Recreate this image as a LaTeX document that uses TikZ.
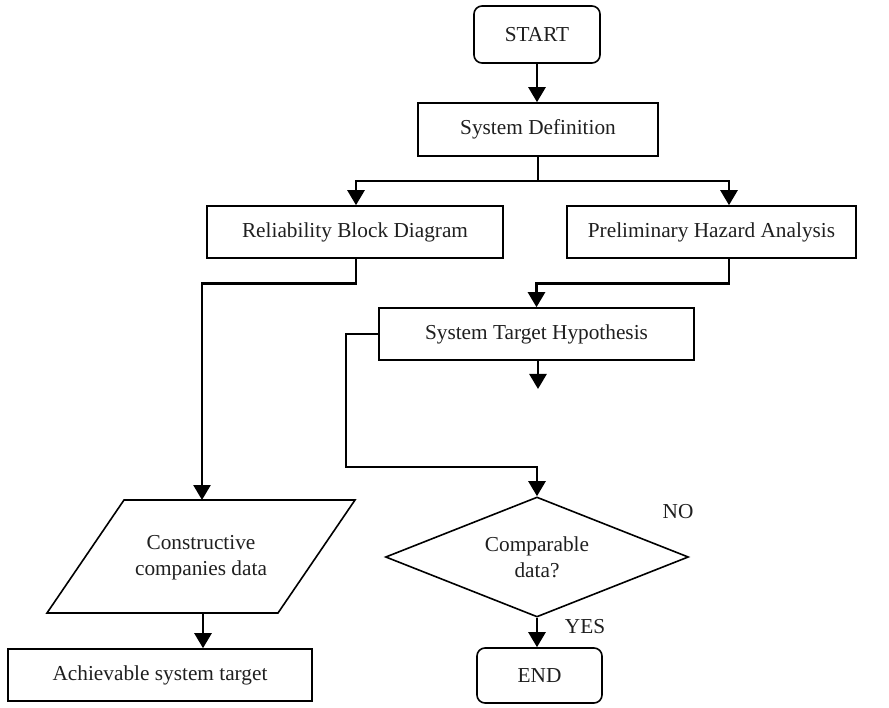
\documentclass[tikz,border=0pt]{standalone}
\usepackage{fontspec}
\setmainfont{Liberation Serif}
\usetikzlibrary{arrows.meta,shapes.geometric,calc}
\begin{document}
\begin{tikzpicture}[x=1pt,y=-1pt,
  box/.style={draw,line width=1.6pt,minimum height=53pt,inner sep=0pt,font=\fontsize{21.3}{26}\selectfont,text=black!88},
  term/.style={box,rounded corners=8pt},
  conn/.style={line width=2.6pt,-{Triangle[length=15pt,width=17pt]}},
  plain/.style={line width=2.6pt},
  lbl/.style={font=\fontsize{21.3}{26}\selectfont,text=black!88,inner sep=0pt}]
\useasboundingbox (0,0) rectangle (889,708);

% nodes
\node[term,minimum width=126pt,minimum height=57pt] (start) at (537,34.5) {START};
\node[box,minimum width=240pt] (sysdef) at (538,129.5) {System Definition};
\node[box,minimum width=296pt,minimum height=52pt] (rbd) at (355,232) {Reliability Block Diagram};
\node[box,minimum width=289pt,minimum height=52pt] (pha) at (711.5,232) {Preliminary Hazard Analysis};
\node[box,minimum width=315pt,minimum height=52pt] (sth) at (536.5,334) {System Target Hypothesis};

% parallelogram
\coordinate (p1) at (124,500);
\coordinate (p2) at (355,500);
\coordinate (p3) at (278,613);
\coordinate (p4) at (47,613);
\draw[line width=1.6pt] (p1) -- (p2) -- (p3) -- (p4) -- cycle;
\node[lbl,align=center] (para) at (201,558) {Constructive\\companies data};

\node[box,minimum width=304pt,minimum height=52pt] (ach) at (160,675) {Achievable system target};

\node[draw,diamond,line width=1.6pt,minimum width=303pt,minimum height=120pt,inner sep=0pt,aspect=2.5,align=center,font=\fontsize{21.3}{26}\selectfont,text=black!88] (dec) at (537,557) {Comparable\\data?};

\node[term,minimum width=125pt,minimum height=55pt] (end) at (539.5,675.5) {END};

\node[lbl] (no) at (678,512) {NO};
\node[lbl] (yes) at (585,627) {YES};

% helper coordinates
\coordinate (rbdX) at (356,0);
\coordinate (phaX) at (729,0);
\coordinate (paraTop) at (202,500);
\coordinate (paraBot) at (203,613);
\coordinate (dangle) at (538,389);

% connectors
\draw[conn] (start.south) -- (start.south |- sysdef.north);
\draw[plain] (sysdef.south) -- (538,181) coordinate (j1);
\draw[conn] (j1) -| (rbd.north -| rbdX);
\draw[conn] (j1) -| (pha.north -| phaX);
\draw[conn] (rbd.south -| rbdX) -- ++(0,25) -| (paraTop);
\draw[conn] (paraBot) -- (paraBot |- ach.north);
\draw[conn] (pha.south -| phaX) -- ++(0,25) -| (sth.north);
\draw[conn] (sth.south -| dangle) -- (dangle);
\draw[conn] (sth.west) -| (346,467) -| (dec.north);
\draw[conn] (dec.south) -- (end.north -| dec.south);
\end{tikzpicture}
\end{document}
